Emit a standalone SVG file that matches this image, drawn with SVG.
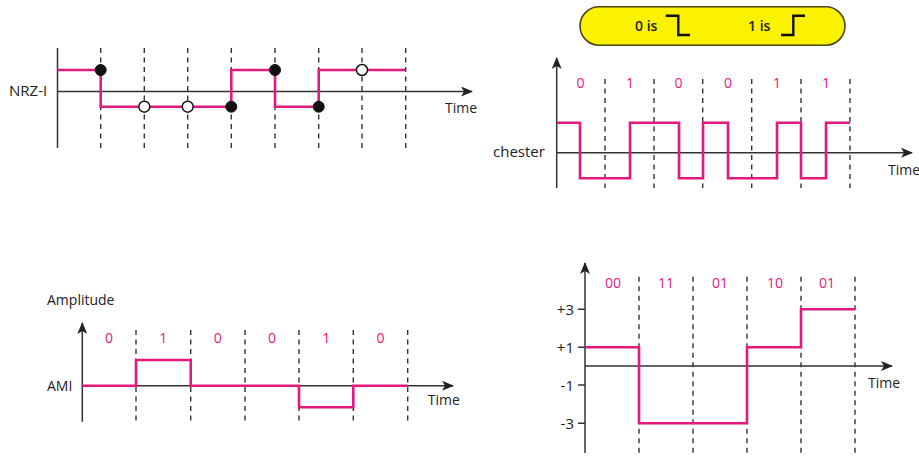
<svg xmlns="http://www.w3.org/2000/svg" width="919" height="458" viewBox="0 0 919 458">
<defs>
<marker id="arr" viewBox="0 0 12 10" refX="11" refY="5" markerWidth="12" markerHeight="10" markerUnits="userSpaceOnUse" orient="auto">
<path d="M0,0 L12,5 L0,10 L3,5 Z" fill="#222"/>
</marker>
</defs>
<style>
.ax{stroke:#333;stroke-width:1.5;fill:none}
.axa{stroke:#333;stroke-width:1.5;fill:none;marker-end:url(#arr)}
.dash{stroke:#333;stroke-width:1.4;stroke-dasharray:5 4.5;fill:none}
.sig{stroke:#e3197d;stroke-width:2.6;fill:none;stroke-linejoin:miter}
.t{font-family:"Open Sans","Liberation Sans",sans-serif;font-size:14px;fill:#222}
.b{font-family:"Open Sans","Liberation Sans",sans-serif;font-size:14px;fill:#e3197d}
.lg{font-family:"Open Sans","Liberation Sans",sans-serif;font-size:14px;font-weight:600;fill:#222}
.dotf{fill:#111;stroke:#111;stroke-width:1}
.doto{fill:#fff;stroke:#111;stroke-width:1.5}
</style>

<g id="nrzi">
<g class="dash">
<path d="M100.7,48V148M144.3,48V148M187.7,48V148M231.3,48V148M275,48V148M318.7,48V148M362,48V148M405.7,48V148"/>
</g>
<path class="ax" d="M57.5,48V148"/>
<path class="axa" d="M57.5,91.5H472"/>
<path class="sig" d="M57.5,70H100.7V106.7H231.3V70H275V106.7H318.7V70H405.7"/>
<circle class="dotf" cx="100.7" cy="70" r="5.5"/>
<circle class="doto" cx="144.3" cy="106.7" r="5.5"/>
<circle class="doto" cx="187.7" cy="106.7" r="5.5"/>
<circle class="dotf" cx="231.3" cy="106.7" r="5.5"/>
<circle class="dotf" cx="275" cy="70" r="5.5"/>
<circle class="dotf" cx="318.7" cy="106.7" r="5.5"/>
<circle class="doto" cx="362" cy="70" r="5.5"/>
<text class="t" x="9" y="96" style="font-size:15px">NRZ-I</text>
<text class="t" x="445" y="113">Time</text>
</g>

<g id="legend">
<rect x="580" y="6.7" width="265" height="38.5" rx="19.25" fill="#fbf200" stroke="#4a4520" stroke-width="1.6"/>
<text class="lg" x="635" y="31">0 is</text>
<path d="M665.7,15.7H678.3V35H690" fill="none" stroke="#111" stroke-width="2.4"/>
<text class="lg" x="748" y="31">1 is</text>
<path d="M781,35H793.3V15.7H805" fill="none" stroke="#111" stroke-width="2.4"/>
</g>

<g id="manchester">
<g class="dash">
<path d="M605,79V188M654,79V188M702.7,79V188M751.7,79V188M801,79V188M850,79V188"/>
</g>
<path class="axa" d="M556.7,188V58"/>
<path class="axa" d="M556.7,152.7H912"/>
<path class="sig" d="M556.7,122.7H580V178.3H630V122.7H679V178.3H703V122.7H728V178.3H777V122.7H801V178.3H826V122.7H850"/>
<g class="b" text-anchor="middle">
<text x="580.5" y="88">0</text>
<text x="630" y="88">1</text>
<text x="678.5" y="88">0</text>
<text x="728" y="88">0</text>
<text x="777" y="88">1</text>
<text x="826" y="88">1</text>
</g>
<text class="t" x="493" y="157" style="font-size:15px">chester</text>
<text class="t" x="888" y="175">Time</text>
</g>

<g id="ami">
<g class="dash">
<path d="M136,330V421.7M190.7,330V421.7M245,330V421.7M299,330V421.7M353.3,330V421.7M407.7,330V421.7"/>
</g>
<path class="axa" d="M82.3,421.7V323"/>
<path class="axa" d="M82.3,385.7H453"/>
<path class="sig" d="M82.3,385.7H136V360H190.7V385.7H299V407.3H353.3V385.7H407.7"/>
<g class="b" text-anchor="middle">
<text x="109" y="343">0</text>
<text x="163.3" y="343">1</text>
<text x="217.7" y="343">0</text>
<text x="272" y="343">0</text>
<text x="326.3" y="343">1</text>
<text x="380.5" y="343">0</text>
</g>
<text class="t" x="47" y="305">Amplitude</text>
<text class="t" x="47" y="391">AMI</text>
<text class="t" x="427.7" y="405">Time</text>
</g>

<g id="twob1q">
<g class="dash">
<path d="M639,276.7V453M693,276.7V453M747,276.7V453M801,276.7V453M855,276.7V453"/>
</g>
<path class="axa" d="M585,453V263"/>
<path class="axa" d="M585,366H892"/>
<path class="ax" d="M578,309.3H585M578,347.3H585M578,385H585M578,423.3H585"/>
<path class="sig" d="M585,347.3H639V423.3H747V347.3H801V309.3H855"/>
<g class="b" text-anchor="middle">
<text x="613" y="288">00</text>
<text x="666" y="288">11</text>
<text x="720" y="288">01</text>
<text x="775" y="288">10</text>
<text x="827" y="288">01</text>
</g>
<g class="t" text-anchor="end" style="font-size:15px">
<text x="574" y="315">+3</text>
<text x="574" y="353">+1</text>
<text x="574" y="390.5">-1</text>
<text x="574" y="428.5">-3</text>
</g>
<text class="t" x="868" y="388">Time</text>
</g>
</svg>
